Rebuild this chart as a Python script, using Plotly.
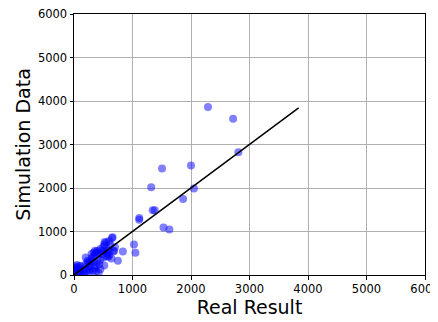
import plotly.graph_objects as go

real_result = [
    2290, 2720, 2810, 1505, 2000, 1320, 2050, 1865, 1345, 1380,
    1115, 1115, 1530, 1630, 1025, 1050, 835, 750, 660, 523,
    680, 585, 517, 450, 375,
    0, 20, 40, 60, 80, 100, 120, 150, 170, 200, 220, 250, 30, 10, 90, 180, 50, 130,
    260, 240, 280, 300, 320, 350, 380, 400, 340, 300, 260, 420, 450, 480, 500, 520,
    550, 600, 650, 620, 580, 560, 600, 640, 500, 450, 400, 430, 380, 350, 320, 420,
    270, 200, 230, 300, 360, 340, 480, 530, 680, 600, 700, 560, 0, 15, 70, 110,
]
simulation_data = [
    3860, 3590, 2820, 2450, 2515, 2020, 1990, 1745, 1490, 1490,
    1310, 1270, 1090, 1045, 700, 510, 540, 330, 870, 760,
    545, 420, 220, 130, 85,
    200, 150, 100, 180, 50, 120, 200, 80, 150, 250, 100, 180, 30, 60, 210, 30, 230, 10,
    50, 300, 220, 320, 400, 450, 520, 550, 520, 380, 280, 480, 600, 560, 650, 700,
    750, 780, 850, 700, 600, 500, 450, 380, 400, 350, 300, 250, 200, 150, 100, 50,
    120, 400, 330, 480, 560, 300, 480, 560, 560, 550, 640, 430, 100, 20, 140, 60,
]
line_x = [0, 3840]
line_y = [0, 3840]

x_ticks = [0, 1000, 2000, 3000, 4000, 5000, 6000]
y_ticks = [0, 1000, 2000, 3000, 4000, 5000, 6000]

fig = go.Figure()
fig.add_trace(go.Scatter(
    x=real_result, y=simulation_data, mode="markers",
    marker=dict(color="rgba(0,0,255,0.5)", size=8, line=dict(width=0)),
    showlegend=False, cliponaxis=True,
))
fig.add_trace(go.Scatter(
    x=line_x, y=line_y, mode="lines",
    line=dict(color="black", width=1.5), showlegend=False,
))

axis_common = dict(
    range=[0, 6000], showgrid=True, gridcolor="#b0b0b0", gridwidth=1,
    showline=True, linecolor="black", linewidth=1, mirror=True,
    ticks="outside", ticklen=3.5, tickcolor="black", tickwidth=1,
    tickfont=dict(family="DejaVu Sans", size=11.5, color="black"),
    zeroline=False, automargin=False, ticklabeloverflow="allow",
)
fig.update_xaxes(**axis_common, tickvals=x_ticks,
                 title=dict(text="Real Result", font=dict(family="DejaVu Sans", size=19, color="black"), standoff=2))
fig.update_yaxes(**axis_common, tickvals=y_ticks,
                 title=dict(text="Simulation Data", font=dict(family="DejaVu Sans", size=19, color="black"), standoff=2))

# page body has an 8px default margin, so the figure is sized to fit the 438x322 window
fig.update_layout(
    width=430, height=314,
    margin=dict(l=66, r=13, t=6, b=47),
    plot_bgcolor="white", paper_bgcolor="white",
)
fig.write_html("out.html")
